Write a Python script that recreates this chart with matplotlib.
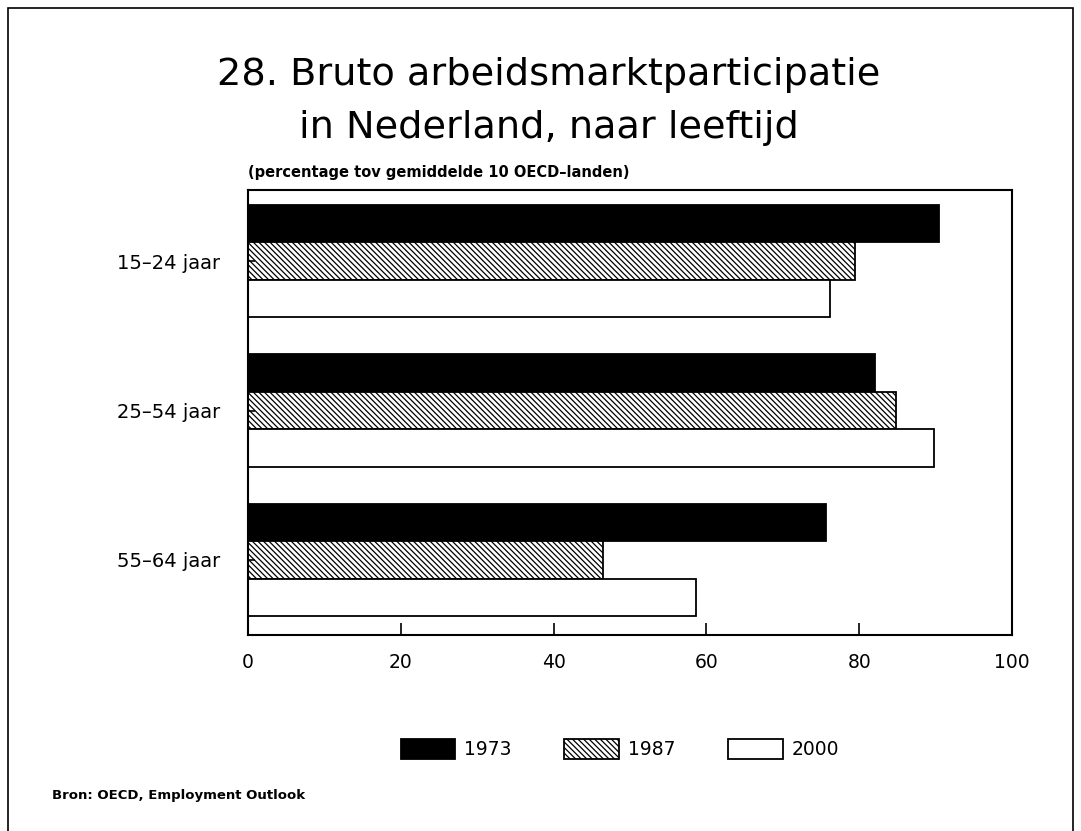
import matplotlib
matplotlib.use("Agg")
import matplotlib.pyplot as plt
from matplotlib.patches import Patch, Rectangle
import numpy as np

categories = ["15\u201324 jaar", "25\u201354 jaar", "55\u201364 jaar"]
years = ["1973", "1987", "2000"]
values_1973 = [90.5, 82.1, 75.6]
values_1987 = [79.4, 84.8, 46.5]
values_2000 = [76.2, 89.8, 58.6]
xticks = [0, 20, 40, 60, 80, 100]

plt.rcParams['font.family'] = ['DejaVu Sans']
plt.rcParams['hatch.linewidth'] = 0.9

fig = plt.figure(figsize=(10.81, 8.31), dpi=100)
W, H = 1081, 831

ax = fig.add_axes([248 / W, 1 - 635 / H, (1012 - 248) / W, (635 - 190) / H])

HATCH = "\\" * 6
h = 0.251
ypos = np.arange(len(categories))
styles = [
    dict(color="black", edgecolor="black"),
    dict(facecolor="white", edgecolor="black", hatch=HATCH),
    dict(facecolor="white", edgecolor="black"),
]
series = [values_1973, values_1987, values_2000]
for i, (vals, st) in enumerate(zip(series, styles)):
    ax.barh(ypos + (i - 1) * h, vals, height=h, linewidth=1.3, label=years[i], **st)

ax.set_xlim(0, 100)
ax.set_ylim(2.503, -0.477)
ax.set_xticks(xticks)
ax.set_xticklabels([str(t) for t in xticks], fontsize=13.5)
ax.set_yticks(ypos)
ax.set_yticklabels(categories, fontsize=14)
ax.tick_params(axis='x', direction='in', length=9, width=1.2, pad=13)
ax.tick_params(axis='y', direction='in', length=5, width=1.2, pad=20)
for s in ax.spines.values():
    s.set_linewidth(1.5)

# Titles
fig.text(549 / W, 1 - 75 / H, "28. Bruto arbeidsmarktparticipatie",
         ha="center", va="center", fontsize=27.5)
fig.text(549 / W, 1 - 128 / H, "in Nederland, naar leeftijd",
         ha="center", va="center", fontsize=27.5)
fig.text(248 / W, 1 - 172 / H, "(percentage tov gemiddelde 10 OECD\u2013landen)",
         ha="left", va="center", fontsize=10.5, fontweight="bold")
fig.text(52 / W, 1 - 795 / H, "Bron: OECD, Employment Outlook",
         ha="left", va="center", fontsize=9.5, fontweight="bold")

# Legend
handles = [Patch(facecolor="black", edgecolor="black", linewidth=1.3),
           Patch(facecolor="white", edgecolor="black", hatch=HATCH, linewidth=1.3),
           Patch(facecolor="white", edgecolor="black", linewidth=1.3)]
fig.legend(handles, years, loc="center", bbox_to_anchor=(620 / W, 1 - 749 / H),
           ncol=3, frameon=False, fontsize=13.5, handlelength=2.9, handleheight=1.3,
           handletextpad=0.5, columnspacing=2.8)

# Outer frame
fig.add_artist(Rectangle((8 / W, -0.01), (1073 - 8) / W, 1 - 8 / H + 0.01,
                         transform=fig.transFigure, fill=False,
                         edgecolor="black", linewidth=1.2))

fig.savefig("out.png", dpi=100, facecolor="white")
